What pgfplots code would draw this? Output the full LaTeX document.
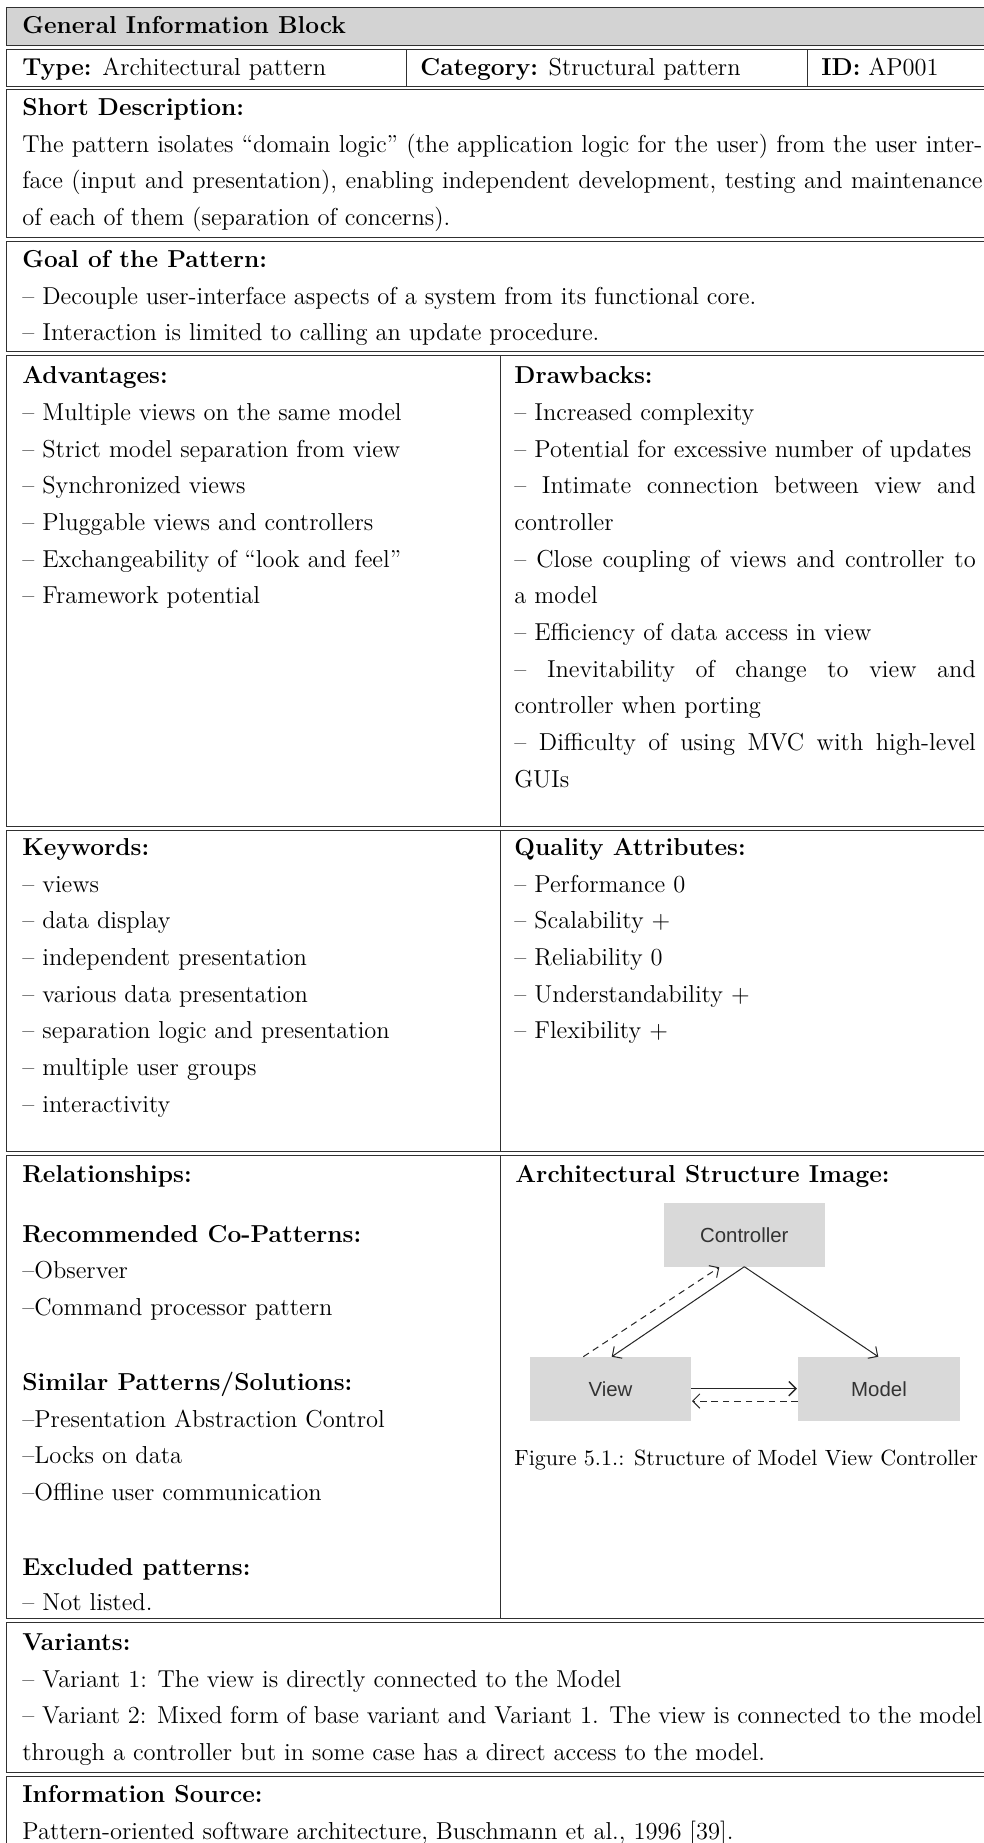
\documentclass[border=0pt]{standalone}
\usepackage{fontspec}
\usepackage{pgfplots}
\pgfplotsset{compat=1.18}
\usetikzlibrary{arrows.meta}
\newfontfamily\diagfont{Liberation Sans}
\definecolor{hdrgray}{HTML}{D3D3D3}
\definecolor{boxgray}{HTML}{D9D9D9}
\definecolor{rulec}{HTML}{303030}
\newcommand{\mainsz}{\fontsize{12}{14.5}\selectfont}
\newcommand{\T}[3]{\node[anchor=base west, inner sep=0pt, font=\mainsz] at (axis cs:#1,#2) {#3};}
\newcommand{\B}[3]{\node[anchor=base west, inner sep=0pt, font=\mainsz] at (axis cs:#1,#2) {\textbf{#3}};}
\newcommand{\J}[4]{\node[anchor=base west, inner sep=0pt, font=\mainsz] at (axis cs:#1,#2) {\makebox[#3][s]{#4}};}
\begin{document}
\begin{tikzpicture}
\begin{axis}[scale only axis, width=482.16pt, height=903.07pt,
  xmin=0, xmax=984, ymin=0, ymax=1843, y dir=reverse, hide axis, clip=false]
% header fill
\addplot[fill=hdrgray, draw=none] coordinates {(6,7.3) (984,7.3) (984,45.3) (6,45.3)} -- cycle;
% horizontal rules
\pgfplotsinvokeforeach{7.3,45.3,49,86,89.3,237.5,241.5,351,355,826.7,830.7,1151.7,1155.7,1618,1622,1772.7,1776.7}{
  \addplot[rulec, line width=0.45pt] coordinates {(6,#1) (984,#1)};
}
% left border segments
\addplot[rulec, line width=0.45pt] coordinates {(6,7.3) (6,45.3)};
\addplot[rulec, line width=0.45pt] coordinates {(6,49) (6,86)};
\addplot[rulec, line width=0.45pt] coordinates {(6,89.3) (6,237.5)};
\addplot[rulec, line width=0.45pt] coordinates {(6,241.5) (6,351)};
\addplot[rulec, line width=0.45pt] coordinates {(6,355) (6,826.7)};
\addplot[rulec, line width=0.45pt] coordinates {(6,830.7) (6,1151.7)};
\addplot[rulec, line width=0.45pt] coordinates {(6,1155.7) (6,1618)};
\addplot[rulec, line width=0.45pt] coordinates {(6,1622) (6,1772.7)};
\addplot[rulec, line width=0.45pt] coordinates {(6,1776.7) (6,1843)};
% inner verticals
\addplot[rulec, line width=0.45pt] coordinates {(406.7,49) (406.7,86)};
\addplot[rulec, line width=0.45pt] coordinates {(807.5,49) (807.5,86)};
\addplot[rulec, line width=0.45pt] coordinates {(500,355) (500,826.7)};
\addplot[rulec, line width=0.45pt] coordinates {(500,830.7) (500,1151.7)};
\addplot[rulec, line width=0.45pt] coordinates {(500,1155.7) (500,1618)};
% diagram boxes
\addplot[fill=boxgray, draw=none] coordinates {(664,1203.3) (824.7,1203.3) (824.7,1266.7) (664,1266.7)} -- cycle;
\addplot[fill=boxgray, draw=none] coordinates {(530,1357.3) (691,1357.3) (691,1420.7) (530,1420.7)} -- cycle;
\addplot[fill=boxgray, draw=none] coordinates {(798,1357.3) (960,1357.3) (960,1420.7) (798,1420.7)} -- cycle;
% arrows
\addplot[black!85, line width=0.5pt, -{Straight Barb[length=3.5pt,width=7pt]}] coordinates {(744.3,1266.7) (611.7,1356.7)};
\addplot[black!85, line width=0.5pt, -{Straight Barb[length=3.5pt,width=7pt]}] coordinates {(744.3,1266.7) (878.3,1356.7)};
\addplot[black!85, line width=0.5pt, dash pattern=on 3.2pt off 2.4pt, -{Straight Barb[length=3.5pt,width=7pt]}] coordinates {(583.3,1356.7) (719.3,1267.3)};
\addplot[black!85, line width=0.7pt, -{Straight Barb[length=3.5pt,width=7pt]}] coordinates {(691,1388.7) (797,1388.7)};
\addplot[black!85, line width=0.5pt, dash pattern=on 3.2pt off 2.4pt, -{Straight Barb[length=3.5pt,width=7pt]}] coordinates {(798,1401) (692,1401)};
\node[font=\diagfont\fontsize{10}{12}\selectfont, text=black!80] at (axis cs:744.3,1235) {Controller};
\node[font=\diagfont\fontsize{10}{12}\selectfont, text=black!80] at (axis cs:610.5,1389) {View};
\node[font=\diagfont\fontsize{10}{12}\selectfont, text=black!80] at (axis cs:879,1389) {Model};
% texts
\B{22}{33}{General Information Block}
\T{22}{75}{\textbf{Type:} Architectural pattern}
\T{420}{75}{\textbf{Category:} Structural pattern}
\T{821}{75}{\textbf{ID:} AP001}
\B{22}{115}{Short Description:}
\J{22}{152}{470.4pt}{The pattern isolates ``domain logic'' (the application logic for the user) from the user inter-}
\J{22}{188}{470.4pt}{face (input and presentation), enabling independent development, testing and maintenance}
\T{22}{225}{of each of them (separation of concerns).}
\B{22}{267}{Goal of the Pattern:}
\T{22}{304}{-- Decouple user-interface aspects of a system from its functional core.}
\T{22}{340}{-- Interaction is limited to calling an update procedure.}
\B{22}{383}{Advantages:}
\T{22}{420}{-- Multiple views on the same model}
\T{22}{457}{-- Strict model separation from view}
\T{22}{493}{-- Synchronized views}
\T{22}{530}{-- Pluggable views and controllers}
\T{22}{567}{-- Exchangeability of ``look and feel''}
\T{22}{603}{-- Framework potential}
\B{514}{383}{Drawbacks:}
\T{514}{420}{-- Increased complexity}
\T{514}{457}{-- Potential for excessive number of updates}
\J{514}{493}{226.1pt}{-- Intimate connection between view and}
\T{514}{530}{controller}
\J{514}{567}{226.1pt}{-- Close coupling of views and controller to}
\T{514}{603}{a model}
\T{514}{640}{-- Efficiency of data access in view}
\J{514}{677}{226.1pt}{-- Inevitability of change to view and}
\T{514}{713}{controller when porting}
\J{514}{750}{226.1pt}{-- Difficulty of using MVC with high-level}
\T{514}{787}{GUIs}
\B{22}{855}{Keywords:}
\T{22}{892}{-- views}
\T{22}{928}{-- data display}
\T{22}{965}{-- independent presentation}
\T{22}{1002}{-- various data presentation}
\T{22}{1038}{-- separation logic and presentation}
\T{22}{1075}{-- multiple user groups}
\T{22}{1112}{-- interactivity}
\B{514}{855}{Quality Attributes:}
\T{514}{892}{-- Performance 0}
\T{514}{928}{-- Scalability $+$}
\T{514}{965}{-- Reliability 0}
\T{514}{1002}{-- Understandability $+$}
\T{514}{1038}{-- Flexibility $+$}
\B{22}{1182}{Relationships:}
\B{22}{1242}{Recommended Co-Patterns:}
\T{22}{1278}{--Observer}
\T{22}{1315}{--Command processor pattern}
\B{22}{1390}{Similar Patterns/Solutions:}
\T{22}{1427}{--Presentation Abstraction Control}
\T{22}{1463}{--Locks on data}
\T{22}{1500}{--Offline user communication}
\B{22}{1575}{Excluded patterns:}
\T{22}{1610}{-- Not listed.}
\B{515}{1182}{Architectural Structure Image:}
\node[anchor=base west, inner sep=0pt, font=\fontsize{10.8}{13.4}\selectfont] at (axis cs:514,1465) {Figure 5.1.: Structure of Model View Controller};
\B{22}{1650}{Variants:}
\T{22}{1687}{-- Variant 1: The view is directly connected to the Model}
\J{22}{1723}{470.4pt}{-- Variant 2: Mixed form of base variant and Variant 1. The view is connected to the model}
\T{22}{1760}{through a controller but in some case has a direct access to the model.}
\B{22}{1802}{Information Source:}
\T{22}{1839}{Pattern-oriented software architecture, Buschmann et al., 1996 [39].}
\end{axis}
\pgfresetboundingbox
\path[use as bounding box] (current axis.south west) rectangle (current axis.north east);
\end{tikzpicture}
\end{document}
